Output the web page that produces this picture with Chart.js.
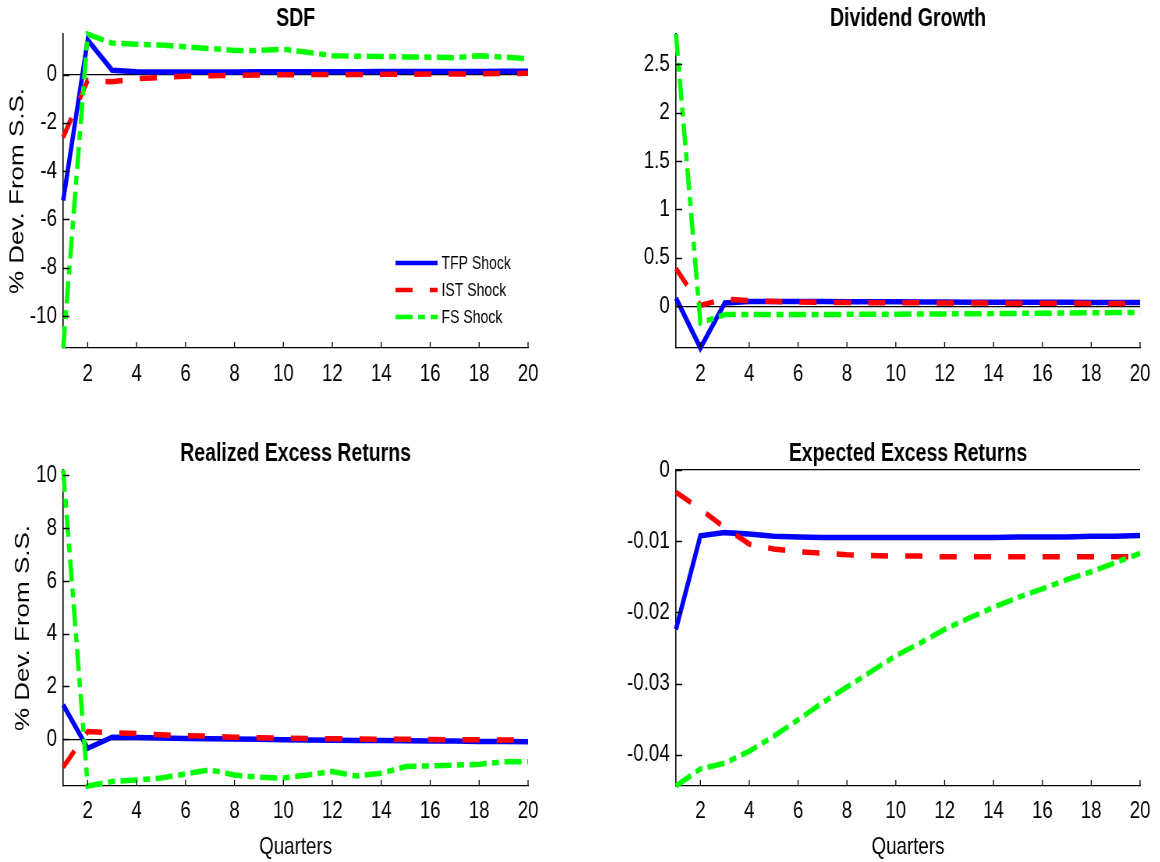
<!DOCTYPE html>
<html>
<head>
<meta charset="utf-8">
<script src="https://cdn.jsdelivr.net/npm/chart.js@4.4.0/dist/chart.umd.min.js"></script>
<style>
  body { margin: 0; background: #fff; }
  #wrap { position: relative; width: 1160px; height: 862px; overflow: hidden; }
  /* panels are drawn wide and squeezed sideways, like the exported figure */
  canvas { position: absolute; transform: scaleX(0.78); transform-origin: 0 0; }
</style>
</head>
<body>
<div id="wrap">
  <canvas id="sdfGraph" width="744" height="431" style="left:0;top:0"></canvas>
  <canvas id="divGraph" width="744" height="431" style="left:580px;top:0"></canvas>
  <canvas id="rerGraph" width="744" height="431" style="left:0;top:431px"></canvas>
  <canvas id="eerGraph" width="744" height="431" style="left:580px;top:431px"></canvas>
</div>
<script>
var quarters = [1,2,3,4,5,6,7,8,9,10,11,12,13,14,15,16,17,18,19,20];
var quarterTicks = [2,4,6,8,10,12,14,16,18,20];
var shockNames = ["TFP Shock", "IST Shock", "FS Shock"];

// SDF
var sdfTFP = [-5.22,1.43,0.18,0.12,0.11,0.11,0.11,0.11,0.12,0.12,0.12,0.12,0.12,0.13,0.13,0.13,0.13,0.13,0.14,0.14];
var sdfIST = [-2.6,-0.24,-0.3,-0.17,-0.12,-0.07,-0.05,-0.03,-0.02,-0.01,0,0,0,0.01,0.01,0.02,0.02,0.03,0.04,0.05];
var sdfFS  = [-11.33,1.68,1.3,1.26,1.22,1.15,1.08,1.0,1.0,1.05,0.92,0.78,0.76,0.75,0.73,0.72,0.7,0.78,0.72,0.66];
var sdfRange = [-11.33, 1.68];
var sdfTicks = [-10,-8,-6,-4,-2,0];

// dividend growth
var divTFP = [0.086,-0.43,0.035,0.05,0.05,0.05,0.05,0.048,0.047,0.046,0.045,0.044,0.043,0.042,0.042,0.041,0.041,0.04,0.04,0.04];
var divIST = [0.39,0.01,0.075,0.06,0.05,0.045,0.04,0.04,0.038,0.037,0.036,0.035,0.034,0.033,0.032,0.031,0.031,0.03,0.03,0.03];
var divFS  = [2.81,-0.17,-0.085,-0.085,-0.085,-0.085,-0.084,-0.083,-0.082,-0.081,-0.08,-0.078,-0.077,-0.075,-0.073,-0.071,-0.069,-0.067,-0.064,-0.062];
var divRange = [-0.43, 2.81];
var divTicks = [0,0.5,1,1.5,2,2.5];

// realized excess returns
var rerTFP = [1.3,-0.34,0.08,0.07,0.05,0.03,0.02,0.01,0,-0.02,-0.03,-0.04,-0.05,-0.05,-0.06,-0.07,-0.07,-0.08,-0.08,-0.09];
var rerIST = [-1.06,0.29,0.25,0.22,0.17,0.13,0.12,0.08,0.06,0.04,0.03,0.02,0.01,0,0,-0.01,-0.02,-0.02,-0.03,-0.03];
var rerFS  = [10.2,-1.77,-1.6,-1.54,-1.47,-1.31,-1.16,-1.35,-1.44,-1.47,-1.35,-1.22,-1.39,-1.29,-1.03,-1.01,-0.98,-0.95,-0.85,-0.85];
var rerRange = [-1.77, 10.2];
var rerTicks = [0,2,4,6,8,10];

// expected excess returns
var eerTFP = [-0.0224,-0.00925,-0.0088,-0.009,-0.0093,-0.0094,-0.0095,-0.0095,-0.0095,-0.0095,-0.0095,-0.0095,-0.0095,-0.0095,-0.0094,-0.0094,-0.0094,-0.0093,-0.0093,-0.0092];
var eerIST = [-0.0031,-0.0055,-0.0081,-0.0104,-0.0111,-0.0115,-0.0117,-0.0119,-0.012,-0.0121,-0.0121,-0.0122,-0.0122,-0.0122,-0.0122,-0.0122,-0.0122,-0.0122,-0.0122,-0.0122];
var eerFS  = [-0.0444,-0.042,-0.0412,-0.0395,-0.0374,-0.0351,-0.0327,-0.0305,-0.0283,-0.0261,-0.0243,-0.0224,-0.0208,-0.0193,-0.0179,-0.0167,-0.0154,-0.0143,-0.013,-0.0117];
var eerRange = [-0.0444, 0];
var eerTicks = [-0.04,-0.03,-0.02,-0.01,0];

var helv = '"Liberation Sans", Arial, Helvetica, sans-serif';

// small tick marks pointing into the plot, like matlab axes
var inwardTicks = {
    id: 'inwardTicks',
    afterDraw: function(chart) {
        var ctx = chart.ctx, area = chart.chartArea;
        var xs = chart.scales.x, ys = chart.scales.y;
        ctx.save();
        ctx.strokeStyle = '#000';
        ctx.lineWidth = 1.3;
        ctx.beginPath();
        xs.ticks.forEach(function(t) {
            var px = xs.getPixelForValue(t.value);
            ctx.moveTo(px, area.bottom);
            ctx.lineTo(px, area.bottom - 6);
        });
        ys.ticks.forEach(function(t) {
            var py = Math.round(ys.getPixelForValue(t.value)) + 0.5;
            ctx.moveTo(area.left, py);
            ctx.lineTo(area.left + 8, py);
        });
        ctx.stroke();
        ctx.restore();
    }
};

// legend sitting inside the plot area
var shockLegend = {
    id: 'shockLegend',
    afterDraw: function(chart, args, opts) {
        var ctx = chart.ctx, area = chart.chartArea;
        ctx.save();
        ctx.font = '18px ' + helv;
        ctx.fillStyle = '#000';
        ctx.textBaseline = 'middle';
        chart.data.datasets.forEach(function(ds, i) {
            var x = area.left + opts.x;
            var y = area.top + opts.y + i * opts.rowGap;
            ctx.strokeStyle = ds.borderColor;
            ctx.lineWidth = 4.5;
            ctx.setLineDash(ds.borderDash);
            ctx.beginPath();
            ctx.moveTo(x, y);
            ctx.lineTo(x + opts.lineLen, y);
            ctx.stroke();
            ctx.setLineDash([]);
            ctx.fillText(ds.label, x + opts.lineLen + 5, y + 1);
        });
        ctx.restore();
    }
};

function shockLine(name, values, color, dash, order) {
    return {
        label: name,
        data: quarters.map(function(q, i) { return {x: q, y: values[i]}; }),
        borderColor: color,
        backgroundColor: color,
        borderWidth: 5.5,
        borderDash: dash,
        borderCapStyle: 'butt',
        borderJoinStyle: 'miter',
        pointRadius: 0,
        tension: 0,
        fill: false,
        order: order,
        clip: 5
    };
}

function shockChart(id, title, tfp, ist, fs, yRange, yTicks, box) {
    var plugins = [inwardTicks];
    if (box.legend) plugins.push(shockLegend);

    var config = {
        type: 'line',
        data: {
            datasets: [
                shockLine(shockNames[0], tfp, '#0000ff', [], 3),
                shockLine(shockNames[1], ist, '#ff0000', [22, 22], 2),
                shockLine(shockNames[2], fs, '#00ff00', [22, 7, 9, 7], 1)
            ]
        },
        plugins: plugins,
        options: {
            responsive: false,
            animation: false,
            devicePixelRatio: 1,
            layout: { padding: { left: 0, top: 0, right: box.right, bottom: 0 } },
            plugins: {
                legend: { display: false },
                tooltip: { enabled: false },
                title: {
                    display: true,
                    text: title,
                    fullSize: false,
                    color: '#000',
                    font: { family: helv, size: 25, weight: 'bold', lineHeight: 1.2 },
                    padding: { top: box.titleTop, bottom: box.titleBottom }
                },
                shockLegend: box.legend || {}
            },
            scales: {
                x: {
                    type: 'linear',
                    min: 1,
                    max: 20,
                    afterBuildTicks: function(s) {
                        s.ticks = quarterTicks.map(function(v) { return {value: v}; });
                    },
                    afterFit: function(s) {
                        s.height = box.xHeight;
                        s.paddingLeft = 0;
                        s.paddingRight = 0;
                    },
                    grid: { display: false, drawTicks: false },
                    border: { display: true, color: '#000', width: 1.3 },
                    ticks: {
                        color: '#000',
                        font: { family: helv, size: 24, lineHeight: 1.2 },
                        padding: box.xPad,
                        maxRotation: 0,
                        autoSkip: false
                    },
                    title: {
                        display: !!box.xTitle,
                        text: 'Quarters',
                        color: '#000',
                        font: { family: helv, size: 24, lineHeight: 1.2 },
                        padding: { top: 0, bottom: 0.6 }
                    }
                },
                y: {
                    type: 'linear',
                    min: yRange[0],
                    max: yRange[1],
                    afterBuildTicks: function(s) {
                        s.ticks = yTicks.map(function(v) { return {value: v}; });
                    },
                    afterFit: function(s) {
                        s.width = box.yWidth;
                        s.paddingTop = 0;
                        s.paddingBottom = 0;
                    },
                    grid: {
                        drawTicks: false,
                        lineWidth: 1.3,
                        color: function(c) {
                            return c.tick && c.tick.value === 0 ? '#000' : 'rgba(0,0,0,0)';
                        }
                    },
                    border: { display: true, color: '#000', width: 1.6 },
                    ticks: {
                        color: '#000',
                        font: { family: helv, size: 24, lineHeight: 1.2 },
                        padding: 8,
                        callback: function(v) { return String(v); }
                    },
                    title: {
                        display: !!box.yTitle,
                        text: '% Dev. From S.S.',
                        color: '#000',
                        font: { family: helv, size: 26, lineHeight: 1.2 },
                        padding: { top: box.yTitlePad || 0, bottom: 0 }
                    }
                }
            }
        }
    };

    return new Chart(document.getElementById(id), config);
}

var sdfChart = shockChart('sdfGraph', 'SDF', sdfTFP, sdfIST, sdfFS, sdfRange, sdfTicks, {
    right: 67, yWidth: 81, xHeight: 83, titleTop: 3.8, titleBottom: 0.2, xPad: 12.4,
    yTitle: true, yTitlePad: 7,
    legend: { x: 426, y: 229, rowGap: 27, lineLen: 54 }
});
var divChart = shockChart('divGraph', 'Dividend Growth', divTFP, divIST, divFS, divRange, divTicks, {
    right: 26, yWidth: 123, xHeight: 83, titleTop: 3.8, titleBottom: 0.2, xPad: 12.4
});
var rerChart = shockChart('rerGraph', 'Realized Excess Returns', rerTFP, rerIST, rerFS, rerRange, rerTicks, {
    right: 67, yWidth: 81, xHeight: 76, titleTop: 8.6, titleBottom: 0.4, xPad: 11.4,
    yTitle: true, yTitlePad: 14, xTitle: true
});
var eerChart = shockChart('eerGraph', 'Expected Excess Returns', eerTFP, eerIST, eerFS, eerRange, eerTicks, {
    right: 26, yWidth: 123, xHeight: 76, titleTop: 8.6, titleBottom: 0.4, xPad: 11.4,
    xTitle: true
});
</script>
</body>
</html>
